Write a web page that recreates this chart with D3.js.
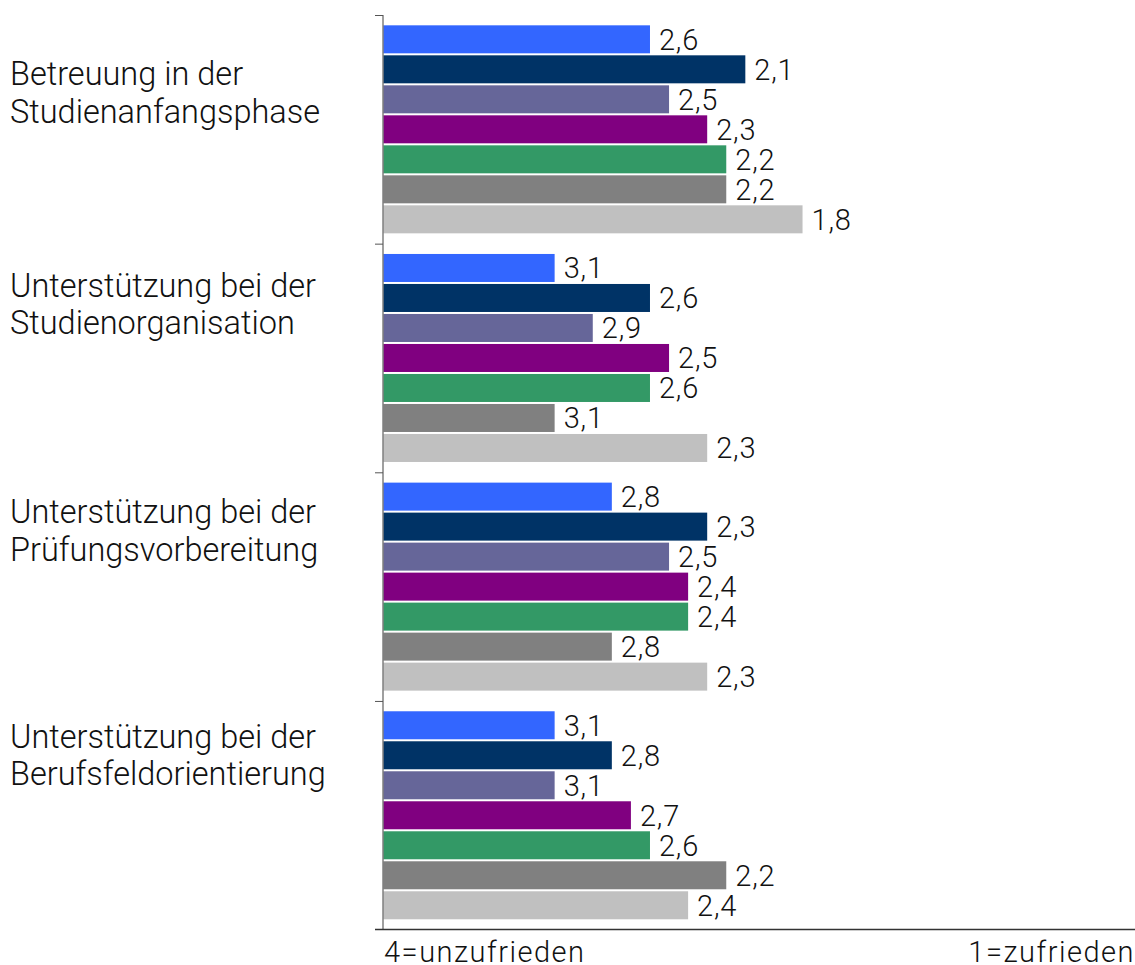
<!DOCTYPE html>
<html lang="de">
<head>
<meta charset="utf-8">
<title>Zufriedenheit mit der Betreuung</title>
<script src="https://cdn.jsdelivr.net/npm/d3@7"></script>
<style>
  html, body { margin: 0; padding: 0; background: #ffffff; }
  svg { display: block; }
  text { font-family: Roboto, "Liberation Sans", sans-serif; font-weight: 300; fill: #111; }
</style>
</head>
<body>
<svg id="chart" width="1135" height="965"></svg>
<script>
// Categories (each label split into two lines)
const categories = [
  ["Betreuung in der", "Studienanfangsphase"],
  ["Unterstützung bei der", "Studienorganisation"],
  ["Unterstützung bei der", "Prüfungsvorbereitung"],
  ["Unterstützung bei der", "Berufsfeldorientierung"]
];

// Seven series, one value per category (mean rating, 1 = satisfied, 4 = unsatisfied)
const series1 = [2.6, 3.1, 2.8, 3.1];
const series2 = [2.1, 2.6, 2.3, 2.8];
const series3 = [2.5, 2.9, 2.5, 3.1];
const series4 = [2.3, 2.5, 2.4, 2.7];
const series5 = [2.2, 2.6, 2.4, 2.6];
const series6 = [2.2, 3.1, 2.8, 2.2];
const series7 = [1.8, 2.3, 2.3, 2.4];

const seriesValues = [series1, series2, series3, series4, series5, series6, series7];
const seriesColors = ["#3366FF", "#003366", "#666699", "#800080", "#339966", "#808080", "#C0C0C0"];

const axisLabelLow = "4=unzufrieden";
const axisLabelHigh = "1=zufrieden";

// Layout
const plotLeft = 383, plotTop = 15, plotBottom = 929.6;
const labelNudge = [70, 53, 51, 47];   // baseline of first label line below group top

const svg = d3.select("#chart");

const y = d3.scaleBand()
  .domain(d3.range(categories.length))
  .range([plotTop, plotBottom])
  .paddingInner(0).paddingOuter(0);

const yInner = d3.scaleBand()
  .domain(d3.range(seriesValues.length))
  .range([0, y.bandwidth()])
  .paddingInner(2 / 30)
  .paddingOuter(0.344);

const x = d3.scaleLinear().domain([4, 0]).range([plotLeft, plotLeft + 4 * 190.7]);

const fmt = v => d3.format(".1f")(v).replace(".", ",");

// Bars and value labels
const groups = svg.append("g").selectAll("g")
  .data(categories)
  .join("g")
  .attr("transform", (d, i) => `translate(0,${y(i)})`);

groups.each(function (cat, ci) {
  const g = d3.select(this);
  const rows = seriesValues.map((s, si) => ({ si, v: s[ci] }));
  g.selectAll("rect")
    .data(rows)
    .join("rect")
    .attr("x", x(4))
    .attr("y", d => yInner(d.si))
    .attr("width", d => x(d.v) - x(4))
    .attr("height", yInner.bandwidth())
    .attr("fill", d => seriesColors[d.si]);
  g.selectAll("text.val")
    .data(rows)
    .join("text")
    .attr("class", "val")
    .attr("x", d => x(d.v) + 9)
    .attr("y", d => yInner(d.si) + yInner.bandwidth() / 2)
    .attr("dy", "0.36em")
    .style("font-size", "29px")
    .style("letter-spacing", "0.8px")
    .text(d => fmt(d.v));
});

// Vertical category axis with ticks at group boundaries
const yAxis = d3.axisLeft(d3.scaleLinear().domain([0, categories.length]).range([plotTop, plotBottom]))
  .tickValues(d3.range(categories.length))
  .tickSize(8)
  .tickFormat("");
svg.append("g")
  .attr("transform", `translate(${plotLeft},0)`)
  .call(yAxis)
  .call(g => g.select(".domain").attr("stroke", "#7f7f7f").attr("stroke-width", 1.5).attr("d", `M0,${plotTop}V${plotBottom}`))
  .call(g => g.selectAll(".tick line").attr("stroke", "#555"));

// Horizontal baseline
svg.append("line")
  .attr("x1", plotLeft - 8).attr("x2", 1135)
  .attr("y1", plotBottom).attr("y2", plotBottom)
  .attr("stroke", "#333").attr("stroke-width", 1.5);

// Category labels
svg.append("g").selectAll("text")
  .data(categories)
  .join("text")
  .attr("x", 10)
  .attr("y", (d, i) => y(i) + labelNudge[i])
  .style("font-size", "32.5px")
  .selectAll("tspan")
  .data(d => d)
  .join("tspan")
  .attr("x", 10)
  .attr("dy", (d, i) => i === 0 ? 0 : 37.5)
  .text(d => d);

// Scale end labels
svg.append("text")
  .attr("x", 384).attr("y", 962)
  .style("font-size", "29px")
  .style("letter-spacing", "1.5px")
  .text(axisLabelLow);
svg.append("text")
  .attr("x", 1135).attr("y", 962)
  .attr("text-anchor", "end")
  .style("font-size", "29px")
  .style("letter-spacing", "1.5px")
  .text(axisLabelHigh);
</script>
</body>
</html>
